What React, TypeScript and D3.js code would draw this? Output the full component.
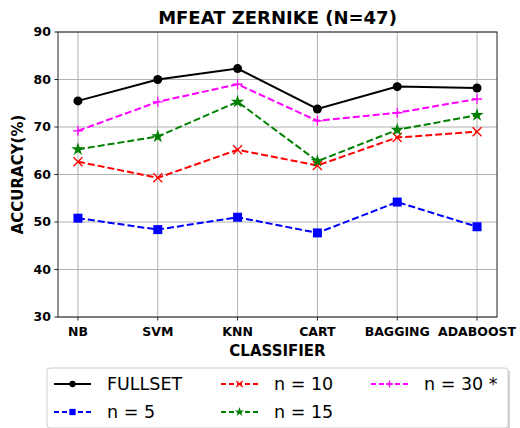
import React from "react";
import * as d3 from "d3";

const categories = ["NB", "SVM", "KNN", "CART", "BAGGING", "ADABOOST"];
const fullset = [75.5, 80.0, 82.3, 73.8, 78.5, 78.2];
const n5 = [50.8, 48.4, 51.0, 47.7, 54.2, 49.0];
const n10 = [62.7, 59.3, 65.2, 61.9, 67.8, 69.0];
const n15 = [65.3, 68.0, 75.3, 62.8, 69.4, 72.5];
const n30 = [69.2, 75.3, 79.0, 71.3, 73.0, 75.9];
const yTicks = [30, 40, 50, 60, 70, 80, 90];

const series = [
  { name: "FULLSET", values: fullset, color: "#000000", dash: null, marker: "circle" },
  { name: "n = 5", values: n5, color: "#0000ff", dash: "7,3", marker: "square" },
  { name: "n = 10", values: n10, color: "#ff0000", dash: "7,3", marker: "x" },
  { name: "n = 15", values: n15, color: "#008000", dash: "7,3", marker: "star" },
  { name: "n = 30 *", values: n30, color: "#ff00ff", dash: "7,3", marker: "plus" },
];

const W = 520, H = 428;
const left = 58, right = 497, top = 32, bottom = 317;
const FONT = "DejaVu Sans, sans-serif";

function Marker({ type, x, y, color, k = 1 }: { type: string; x: number; y: number; color: string; k?: number }) {
  if (type === "circle") return <circle cx={x} cy={y} r={4.5 * k} fill={color} />;
  if (type === "square") return <rect x={x - 4.5 * k} y={y - 4.5 * k} width={9 * k} height={9 * k} fill={color} />;
  if (type === "x") {
    const s = 4.5 * k;
    return (
      <path d={`M${x - s},${y - s}L${x + s},${y + s}M${x - s},${y + s}L${x + s},${y - s}`} stroke={color} strokeWidth={1.3} fill="none" />
    );
  }
  if (type === "plus") {
    const s = 5 * k;
    return <path d={`M${x - s},${y}L${x + s},${y}M${x},${y - s}L${x},${y + s}`} stroke={color} strokeWidth={1.3} fill="none" />;
  }
  if (type === "star") {
    const p = d3.symbol().type(d3.symbolStar).size(55 * k * k)();
    return <path d={p || ""} transform={`translate(${x},${y})`} fill={color} />;
  }
  return null;
}

export default function App() {
  const x = d3.scaleLinear().domain([-0.25, 5.25]).range([left, right]);
  const y = d3.scaleLinear().domain([30, 90]).range([bottom, top]);
  const line = d3
    .line<number>()
    .x((_, i) => x(i))
    .y((d) => y(d));

  const legendOrder = [
    { s: series[0], col: 0, row: 0 },
    { s: series[1], col: 0, row: 1 },
    { s: series[2], col: 1, row: 0 },
    { s: series[3], col: 1, row: 1 },
    { s: series[4], col: 2, row: 0 },
  ];
  const colX = [54, 221, 371];
  const rowY = [384, 412];

  return (
    <svg width={W} height={H} style={{ position: "absolute", left: 0, top: 0, background: "#fff" }} fontFamily={FONT}>
      <rect width={W} height={H} fill="#fff" />
      {categories.map((_, i) => (
        <line key={"gx" + i} x1={x(i)} x2={x(i)} y1={top} y2={bottom} stroke="#b0b0b0" strokeWidth={1} />
      ))}
      {yTicks.map((t) => (
        <line key={"gy" + t} x1={left} x2={right} y1={y(t)} y2={y(t)} stroke="#b0b0b0" strokeWidth={1} />
      ))}
      <rect x={left} y={top} width={right - left} height={bottom - top} fill="none" stroke="#222" strokeWidth={1} />
      {yTicks.map((t) => (
        <g key={"yt" + t}>
          <line x1={left - 3.5} x2={left} y1={y(t)} y2={y(t)} stroke="#222" />
          <text x={left - 7} y={y(t)} dy="0.35em" textAnchor="end" fontSize={12.5} fontWeight="bold" fill="#000">
            {t}
          </text>
        </g>
      ))}
      {categories.map((c, i) => (
        <g key={"xt" + c}>
          <line x1={x(i)} x2={x(i)} y1={bottom} y2={bottom + 3.5} stroke="#222" />
          <text x={x(i)} y={bottom + 19} textAnchor="middle" fontSize={12.5} fontWeight="bold" fill="#000">
            {c}
          </text>
        </g>
      ))}
      {series.map((s) => (
        <g key={s.name}>
          <path d={line(s.values) || ""} fill="none" stroke={s.color} strokeWidth={2} strokeDasharray={s.dash || undefined} />
          {s.values.map((v, i) => (
            <Marker key={i} type={s.marker} x={x(i)} y={y(v)} color={s.color} />
          ))}
        </g>
      ))}
      <text x={(left + right) / 2} y={24} textAnchor="middle" fontSize={18} fontWeight="bold" fill="#000">
        MFEAT ZERNIKE (N=47)
      </text>
      <text x={(left + right) / 2} y={356} textAnchor="middle" fontSize={15} fontWeight="bold" fill="#000">
        CLASSIFIER
      </text>
      <text
        transform={`translate(23,${(top + bottom) / 2}) rotate(-90)`}
        textAnchor="middle"
        fontSize={15}
        fontWeight="bold"
        fill="#000"
      >
        ACCURACY(%)
      </text>
      <rect x={49} y={370} width={461} height={60} rx={3} fill="#aaa" opacity={0.5} />
      <rect x={47} y={368} width={461} height={60} rx={3} fill="#fff" stroke="#ccc" strokeWidth={1} />
      {legendOrder.map(({ s, col, row }) => {
        const lx = colX[col];
        const ly = rowY[row];
        return (
          <g key={"lg" + s.name}>
            <line x1={lx} x2={lx + 37} y1={ly} y2={ly} stroke={s.color} strokeWidth={2} strokeDasharray={s.dash ? "5,3" : undefined} />
            <Marker type={s.marker} x={lx + 18.5} y={ly} color={s.color} k={0.7} />
            <text x={lx + 53} y={ly} dy="0.35em" fontSize={17.5} fill="#000">
              {s.name}
            </text>
          </g>
        );
      })}
    </svg>
  );
}
